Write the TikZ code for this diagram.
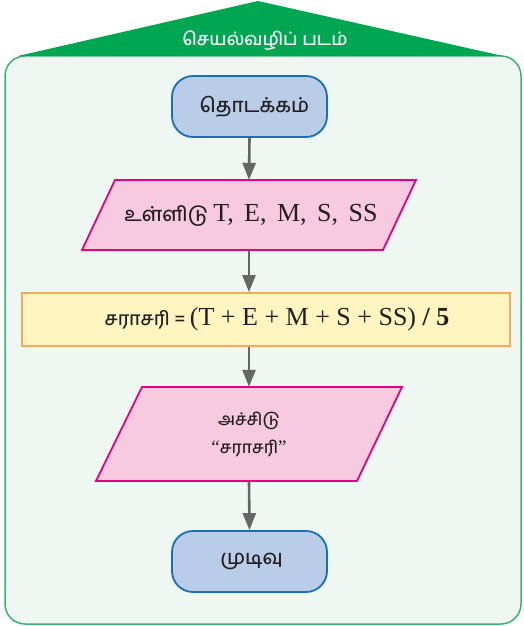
\documentclass[tikz,border=0pt]{standalone}
\usepackage{fontspec}
\setmainfont{Liberation Serif}
\newfontfamily\tamil[Script=Tamil]{Hind Madurai Medium}
\usetikzlibrary{arrows.meta,calc}
\newcommand\mywsp{\hspace{10.5pt}}
\definecolor{roofgreen}{HTML}{00A651}
\definecolor{panelline}{HTML}{3BB273}
\definecolor{panelfill}{HTML}{EEF7F2}
\definecolor{termfill}{HTML}{B9CDE9}
\definecolor{termline}{HTML}{1B6DB7}
\definecolor{iofill}{HTML}{F8CADF}
\definecolor{ioline}{HTML}{E6007E}
\definecolor{procfill}{HTML}{FFF5C0}
\definecolor{procline}{HTML}{F4A860}
\definecolor{arrgray}{HTML}{666666}
\definecolor{txt}{HTML}{231F20}
\tikzset{
  term/.style={draw=termline, fill=termfill, line width=1.8pt, rounded corners=21pt,
    minimum width=155pt, minimum height=61pt, inner sep=0pt, text=txt,
    font=\tamil\fontsize{20}{23}\selectfont},
  iobox/.style={draw=ioline, fill=iofill, line width=1.8pt, line join=miter},
  iotext/.style={inner sep=0pt, text=txt, align=center},
  proc/.style={draw=procline, fill=procfill, line width=1.8pt,
    minimum width=488pt, minimum height=53pt, inner sep=0pt, text=txt},
  arr/.style={draw=arrgray, line width=2.6pt, -{Triangle[length=17pt,width=13pt]}},
  titletext/.style={text=white, font=\tamil\fontsize{18}{21}\selectfont, inner sep=0pt}
}
\begin{document}
\begin{tikzpicture}[x=1pt,y=-1pt]
\useasboundingbox (0,0) rectangle (523,626);
% panel
\draw[draw=panelline, fill=panelfill, line width=1.5pt, rounded corners=20pt] (5,56) rectangle (521,624);
% roof
\fill[roofgreen] (18,56) -- (258,1) -- (503,56) -- cycle;
\node[titletext] (title) at (265,41) {செயல்வழிப் படம்};
% start
\node[term] (start) at (249.5,106.5) {\hspace*{10pt}தொடக்கம்};
% input parallelogram
\coordinate (inc) at (249,215);
\draw[iobox] ($(inc)+(-134,-35)$) -- ($(inc)+(167,-35)$) -- ($(inc)+(134,35)$) -- ($(inc)+(-167,35)$) -- cycle;
\node[iotext, minimum width=250pt, minimum height=70pt] (in) at (inc)
  {\hspace*{4pt}{\tamil\fontsize{20}{24}\selectfont உள்ளிடு }{\fontsize{26}{30}\selectfont T,\mywsp E,\mywsp M,\mywsp S,\mywsp SS}};
% process
\node[proc] (proc) at (266,319.5)
  {\hspace*{22pt}{\tamil\fontsize{19}{22}\selectfont சராசரி = }{\fontsize{26}{30}\selectfont (T + E + M + S + SS) \textbf{/ 5}}};
% output parallelogram
\coordinate (outc) at (249,434);
\draw[iobox] ($(outc)+(-107,-47)$) -- ($(outc)+(153,-47)$) -- ($(outc)+(108,47)$) -- ($(outc)+(-153,47)$) -- cycle;
\node[iotext, minimum width=200pt, minimum height=94pt, font=\tamil\fontsize{17}{28}\selectfont] (out) at (outc)
  {அச்சிடு\\{\rmfamily\fontsize{19}{22}\selectfont``}சராசரி{\rmfamily\fontsize{19}{22}\selectfont''}};
% end
\node[term] (stop) at (249.5,561.5) {\hspace*{4pt}முடிவு};
% arrows
\draw[arr] (start.south) -- (in.north);
\draw[arr] (in.south) -- (in.south |- proc.north);
\draw[arr] (in.south |- proc.south) -- (out.north);
\draw[arr] (out.south) -- (stop.north);
\end{tikzpicture}
\end{document}
